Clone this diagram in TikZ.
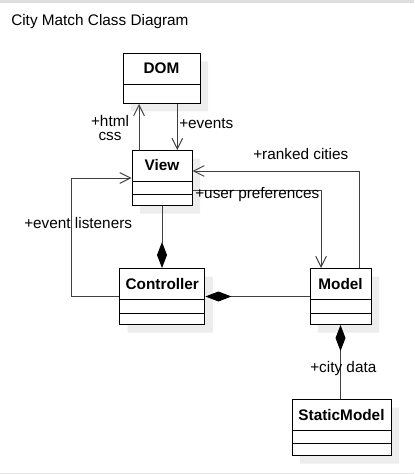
\documentclass[tikz,border=0pt]{standalone}
\usepackage{fontspec}
\setmainfont{Liberation Sans}
\usetikzlibrary{arrows.meta,shapes.multipart,shadows}

\newcommand{\diagfont}{\fontsize{11.5}{11}\selectfont}
\newcommand{\namepart}[1]{\rule[-7.5pt]{0pt}{22.5pt}#1}

\tikzset{
    umlclass/.style={rectangle split, rectangle split parts=3, anchor=north,
        draw=black, fill=white, line width=0.75pt, inner xsep=2pt, inner ysep=0pt,
        font=\diagfont\bfseries,
        drop shadow={shadow xshift=6pt, shadow yshift=-6pt, fill=black!7, opacity=1}},
    assoc/.style={draw=black!75, line width=0.75pt, -{Straight Barb[length=8pt,width=8pt]}},
    comp/.style={draw=black!75, line width=0.75pt, -{Diamond[length=19.5pt,width=7.5pt,color=black]}},
    lbl/.style={inner sep=0pt, anchor=base west}
}

\begin{document}
\begin{tikzpicture}[x=0.75pt, y=-0.75pt, font=\diagfont]
    \fill [black!13] (0,0) rectangle (414,3);
    \fill [black!10] (0,472.5) rectangle (414,474);
    \useasboundingbox (0,0) rectangle (414,474);
    \node [lbl] (title) at (11,26) {City Match Class Diagram};

    % classes
    \node [umlclass, rectangle split parts=2, minimum width=57.75pt] (dom) at (161.5,53) {\namepart{DOM}\nodepart{two}\rule{0pt}{13.5pt}};
    \node [umlclass, minimum width=45pt] (view) at (162,150) {\namepart{View}\nodepart{two}\rule{0pt}{9pt}\nodepart{three}\rule{0pt}{7.5pt}};
    \node [umlclass, minimum width=64pt] (controller) at (162.25,268) {\namepart{Controller}\nodepart{two}\rule{0pt}{9.75pt}\nodepart{three}\rule{0pt}{7.5pt}};
    \node [umlclass, minimum width=45.75pt] (model) at (340.5,268) {\namepart{Model}\nodepart{two}\rule{0pt}{9.75pt}\nodepart{three}\rule{0pt}{7.5pt}};
    \node [umlclass, minimum width=74.25pt] (staticmodel) at (341.5,399) {\namepart{StaticModel}\nodepart{two}\rule{0pt}{9pt}\nodepart{three}\rule{0pt}{8.25pt}};

    % links
    \draw [assoc] ([xshift=-17.25pt]view.north) -- ([xshift=-17.25pt]view.north |- dom.south);
    \draw [assoc] ([xshift=11.5pt]view.north |- dom.south) -- ([xshift=11.5pt]view.north);
    \draw [assoc] ([xshift=13.9pt]model.north) |- ([yshift=5.25pt]view.east);
    \draw [assoc] ([yshift=-9.5pt]view.east) -| ([xshift=-14.6pt]model.north);
    \draw [assoc] (controller.west) -- ++(-35.6pt,0) |- (view.west);
    \draw [comp] (view.south) -- (view.south |- controller.north);
    \draw [comp] (model.west) -- (controller.east);
    \draw [comp] (model.south |- staticmodel.north) -- (model.south);

    % link labels
    \node [inner sep=0pt, anchor=base, align=center] (htmlcss) at (110,141) {+html\\css};
    \node [lbl] (events) at (179,128) {+events};
    \node [lbl] (ranked) at (253,160) {+ranked cities};
    \node [lbl] (prefs) at (195,198) {+user preferences};
    \node [lbl] (listeners) at (24,228) {+event listeners};
    \node [lbl] (citydata) at (310,372) {+city data};
\end{tikzpicture}
\end{document}
